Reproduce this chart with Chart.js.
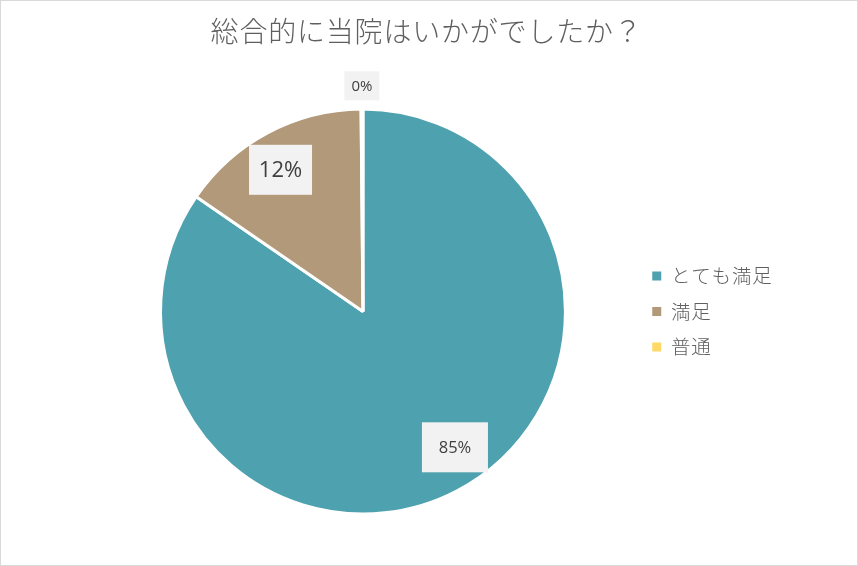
<!DOCTYPE html>
<html>
<head>
<meta charset="utf-8">
<script src="https://cdn.jsdelivr.net/npm/chart.js@4.4.0/dist/chart.umd.min.js"></script>
<style>
  html, body { margin: 0; padding: 0; background: #fff; }
  #frame { width: 858px; height: 566px; box-sizing: border-box; border: 1px solid #d9d9d9; }
  canvas { display: block; }
</style>
</head>
<body>
<div id="frame"><canvas id="pieChart" width="856" height="564"></canvas></div>
<script>
const title = "総合的に当院はいかがでしたか？";
const categories = ["とても満足", "満足", "普通"];
const shares = [84.6, 15.25, 0.15];
const shareLabels = ["85%", "12%", "0%"];
const colors = ["#4ea1ae", "#b2997a", "#ffd966"];

// where each label sits inside its slice, and how its box looks
const labelAngleFrac = [0.479, 0.46, 0.5];
const labelRadiusFrac = [0.81, 0.81, 1.115];
const labelFontSize = [16.5, 22, 15];
const labelBoxW = [66, 63, 35];
const labelBoxH = [50, 50, 29];

const sliceLabels = {
  id: "sliceLabels",
  afterLayout(chart) {
    // title is centred a little left of the full width in the original
    chart.titleBlock.left -= 7.5;
    chart.titleBlock.right -= 7.5;
  },
  beforeDraw(chart) {
    chart.ctx.letterSpacing = "0.8px";
  },
  beforeDatasetsDraw(chart) {
    chart.ctx.letterSpacing = "0px";
  },
  afterDatasetsDraw(chart) {
    const ctx = chart.ctx;
    const meta = chart.getDatasetMeta(0);
    meta.data.forEach((arc, i) => {
      const p = arc.getProps(["x", "y", "startAngle", "endAngle", "outerRadius"], true);
      const a = p.startAngle + (p.endAngle - p.startAngle) * labelAngleFrac[i];
      const r = p.outerRadius * labelRadiusFrac[i];
      const cx = p.x + Math.cos(a) * r;
      const cy = p.y + Math.sin(a) * r;
      ctx.save();
      ctx.fillStyle = "#f2f2f2";
      ctx.fillRect(cx - labelBoxW[i] / 2, cy - labelBoxH[i] / 2, labelBoxW[i], labelBoxH[i]);
      ctx.fillStyle = "#404040";
      ctx.font = labelFontSize[i] + "px 'Open Sans', sans-serif";
      ctx.textAlign = "center";
      ctx.textBaseline = "middle";
      ctx.fillText(shareLabels[i], cx, cy + 1);
      ctx.restore();
    });
  }
};

new Chart(document.getElementById("pieChart").getContext("2d"), {
  type: "pie",
  data: {
    labels: categories,
    datasets: [{
      data: shares,
      backgroundColor: colors,
      borderColor: "#ffffff",
      borderWidth: 3
    }]
  },
  options: {
    responsive: false,
    animation: false,
    layout: { padding: { left: 88.7, right: 78.5, top: 0, bottom: 49.5 } },
    plugins: {
      title: {
        display: true,
        text: title,
        color: "#5f5f5f",
        font: { family: "'Noto Sans CJK JP', sans-serif", size: 28, weight: 300 },
        padding: { top: 14, bottom: 59 }
      },
      legend: {
        position: "right",
        fullSize: false,
        labels: {
          color: "#5f5f5f",
          boxWidth: 9,
          boxHeight: 9,
          padding: 16,
          font: { family: "'Noto Sans CJK JP', sans-serif", size: 19.5, weight: 300 },
          generateLabels(chart) {
            const items = Chart.overrides.pie.plugins.legend.labels.generateLabels(chart);
            items.forEach(it => { it.lineWidth = 0; });
            return items;
          }
        }
      },
      tooltip: { enabled: false }
    }
  },
  plugins: [sliceLabels]
});
</script>
</body>
</html>
